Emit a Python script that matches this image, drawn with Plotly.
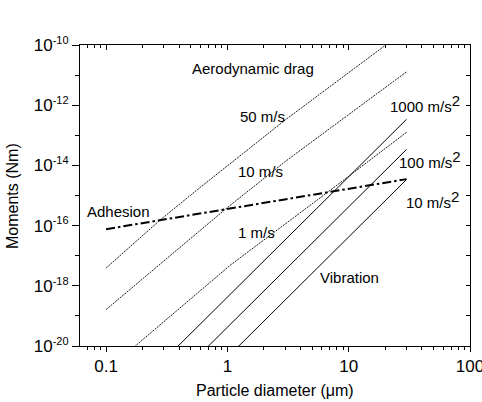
import plotly.graph_objects as go

# ---- data ----
drag50_x = [0.1, 0.28, 0.56, 1.06, 3.0, 19.3, 22.4]
drag50_y = [3.9e-18, 1.55e-16, 1.51e-15, 1.17e-14, 3.24e-13, 8.7e-11, 1.35e-10]

drag10_x = [0.1, 1.0, 3.0, 5.0, 30]
drag10_y = [1.62e-19, 3.98e-16, 1.35e-14, 6.2e-14, 1.29e-11]

drag1_x = [0.15, 0.174, 1.06, 2.39, 7.07, 30]
drag1_y = [5.9e-21, 1.0e-20, 4.9e-18, 5.6e-17, 1.51e-15, 1.26e-13]

adhesion_x = [0.1, 30]
adhesion_y = [7.6e-17, 3.5e-15]

vib_x = [0.3, 30]
vib1000_y = [3.4e-21, 3.4e-13]
vib100_y = [3.4e-22, 3.4e-14]
vib10_y = [3.4e-23, 3.4e-15]

x_tickvals = [0.1, 1, 10, 100]
x_ticktext = ["0.1", "1", "10", "100"]
y_tickvals = [1e-20, 1e-18, 1e-16, 1e-14, 1e-12, 1e-10]
y_exponents = ["-20", "-18", "-16", "-14", "-12", "-10"]
y_minor = [1e-19, 1e-17, 1e-15, 1e-13, 1e-11]
x_minor = [m * d for d in (0.01, 0.1, 1, 10) for m in range(2, 10)]

y_ticktext = ["10<sup><span style='font-size:11px'>%s</span></sup>" % e for e in y_exponents]

FONT = "Liberation Sans, Arial, sans-serif"

fig = go.Figure()
drag_line = dict(color="black", width=0.9, dash="2px,1px")
for xs, ys in [(drag50_x, drag50_y), (drag10_x, drag10_y), (drag1_x, drag1_y)]:
    fig.add_trace(go.Scatter(x=xs, y=ys, mode="lines", line=drag_line,
                             showlegend=False, hoverinfo="skip"))
for ys in [vib1000_y, vib100_y, vib10_y]:
    fig.add_trace(go.Scatter(x=vib_x, y=ys, mode="lines",
                             line=dict(color="black", width=1),
                             showlegend=False, hoverinfo="skip"))
fig.add_trace(go.Scatter(x=adhesion_x, y=adhesion_y, mode="lines",
                         line=dict(color="black", width=2, dash="9px,3px,2.5px,3px"),
                         showlegend=False, hoverinfo="skip"))
# invisible trace to draw mirror axes
fig.add_trace(go.Scatter(x=[1], y=[1e-15], xaxis="x2", yaxis="y2", mode="markers",
                         marker=dict(opacity=0), showlegend=False, hoverinfo="skip"))

xr = [-1.215, 2]
yr = [-20, -10]
common_x = dict(type="log", range=xr, tickvals=x_tickvals, showgrid=False,
                zeroline=False, showline=True, linecolor="black", linewidth=1,
                tickcolor="black", tickwidth=1, automargin=False)
common_y = dict(type="log", range=yr, tickvals=y_tickvals, showgrid=False,
                zeroline=False, showline=True, linecolor="black", linewidth=1,
                tickcolor="black", tickwidth=1, automargin=False)

fig.update_layout(
    width=482, height=402,
    margin=dict(l=80, r=12, t=45, b=56, autoexpand=False),
    plot_bgcolor="white", paper_bgcolor="white",
    font=dict(family=FONT, size=15, color="black"),
    xaxis=dict(**common_x, ticktext=x_ticktext, ticks="outside", ticklen=5,
               tickfont=dict(size=17), ticklabeloverflow="allow",
               minor=dict(tickvals=x_minor, ticks="outside", ticklen=3,
                          tickcolor="black", showgrid=False)),
    xaxis2=dict(**common_x, overlaying="x", side="top", ticks="inside", ticklen=5,
                showticklabels=False,
                minor=dict(tickvals=x_minor, ticks="inside", ticklen=3,
                           tickcolor="black", showgrid=False)),
    yaxis=dict(**common_y, ticktext=y_ticktext, ticks="outside", ticklen=7,
               tickfont=dict(size=17), ticklabeloverflow="allow",
               minor=dict(tickvals=y_minor, ticks="outside", ticklen=4,
                          tickcolor="black", showgrid=False)),
    yaxis2=dict(**common_y, overlaying="y", side="right", ticks="inside", ticklen=4,
                showticklabels=False,
                minor=dict(tickvals=y_minor, ticks="inside", ticklen=4,
                           tickcolor="black", showgrid=False)),
)

def px2paper(px, py):
    return (px - 80) / 390.0, (346 - py) / 301.0

labels = [
    ("Aerodynamic drag", 253, 69),
    ("50 m/s", 262, 116),
    ("10 m/s", 260, 171),
    ("1 m/s", 256, 232),
    ("Adhesion", 118, 211),
    ("Vibration", 349, 277),
    ("1000 m/s<sup><span style='font-size:15px'>2</span></sup>", 425, 104),
    ("100 m/s<sup><span style='font-size:15px'>2</span></sup>", 430, 159),
    ("10 m/s<sup><span style='font-size:15px'>2</span></sup>", 432, 199),
]
for text, px, py in labels:
    xp, yp = px2paper(px, py)
    fig.add_annotation(text=text, x=xp, y=yp, xref="paper", yref="paper",
                       showarrow=False, xanchor="center", yanchor="middle",
                       font=dict(family=FONT, size=15, color="black"))

# axis titles
fig.add_annotation(text="Particle diameter (\u03bcm)", x=(275 - 80) / 390.0, y=(346 - 390) / 301.0,
                   xref="paper", yref="paper", showarrow=False,
                   xanchor="center", yanchor="middle",
                   font=dict(family=FONT, size=16, color="black"))
fig.add_annotation(text="Moments (Nm)", x=(12 - 80) / 390.0, y=(346 - 196) / 301.0,
                   xref="paper", yref="paper", showarrow=False, textangle=-90,
                   xanchor="center", yanchor="middle",
                   font=dict(family=FONT, size=16, color="black"))

fig.write_html("out.html")
